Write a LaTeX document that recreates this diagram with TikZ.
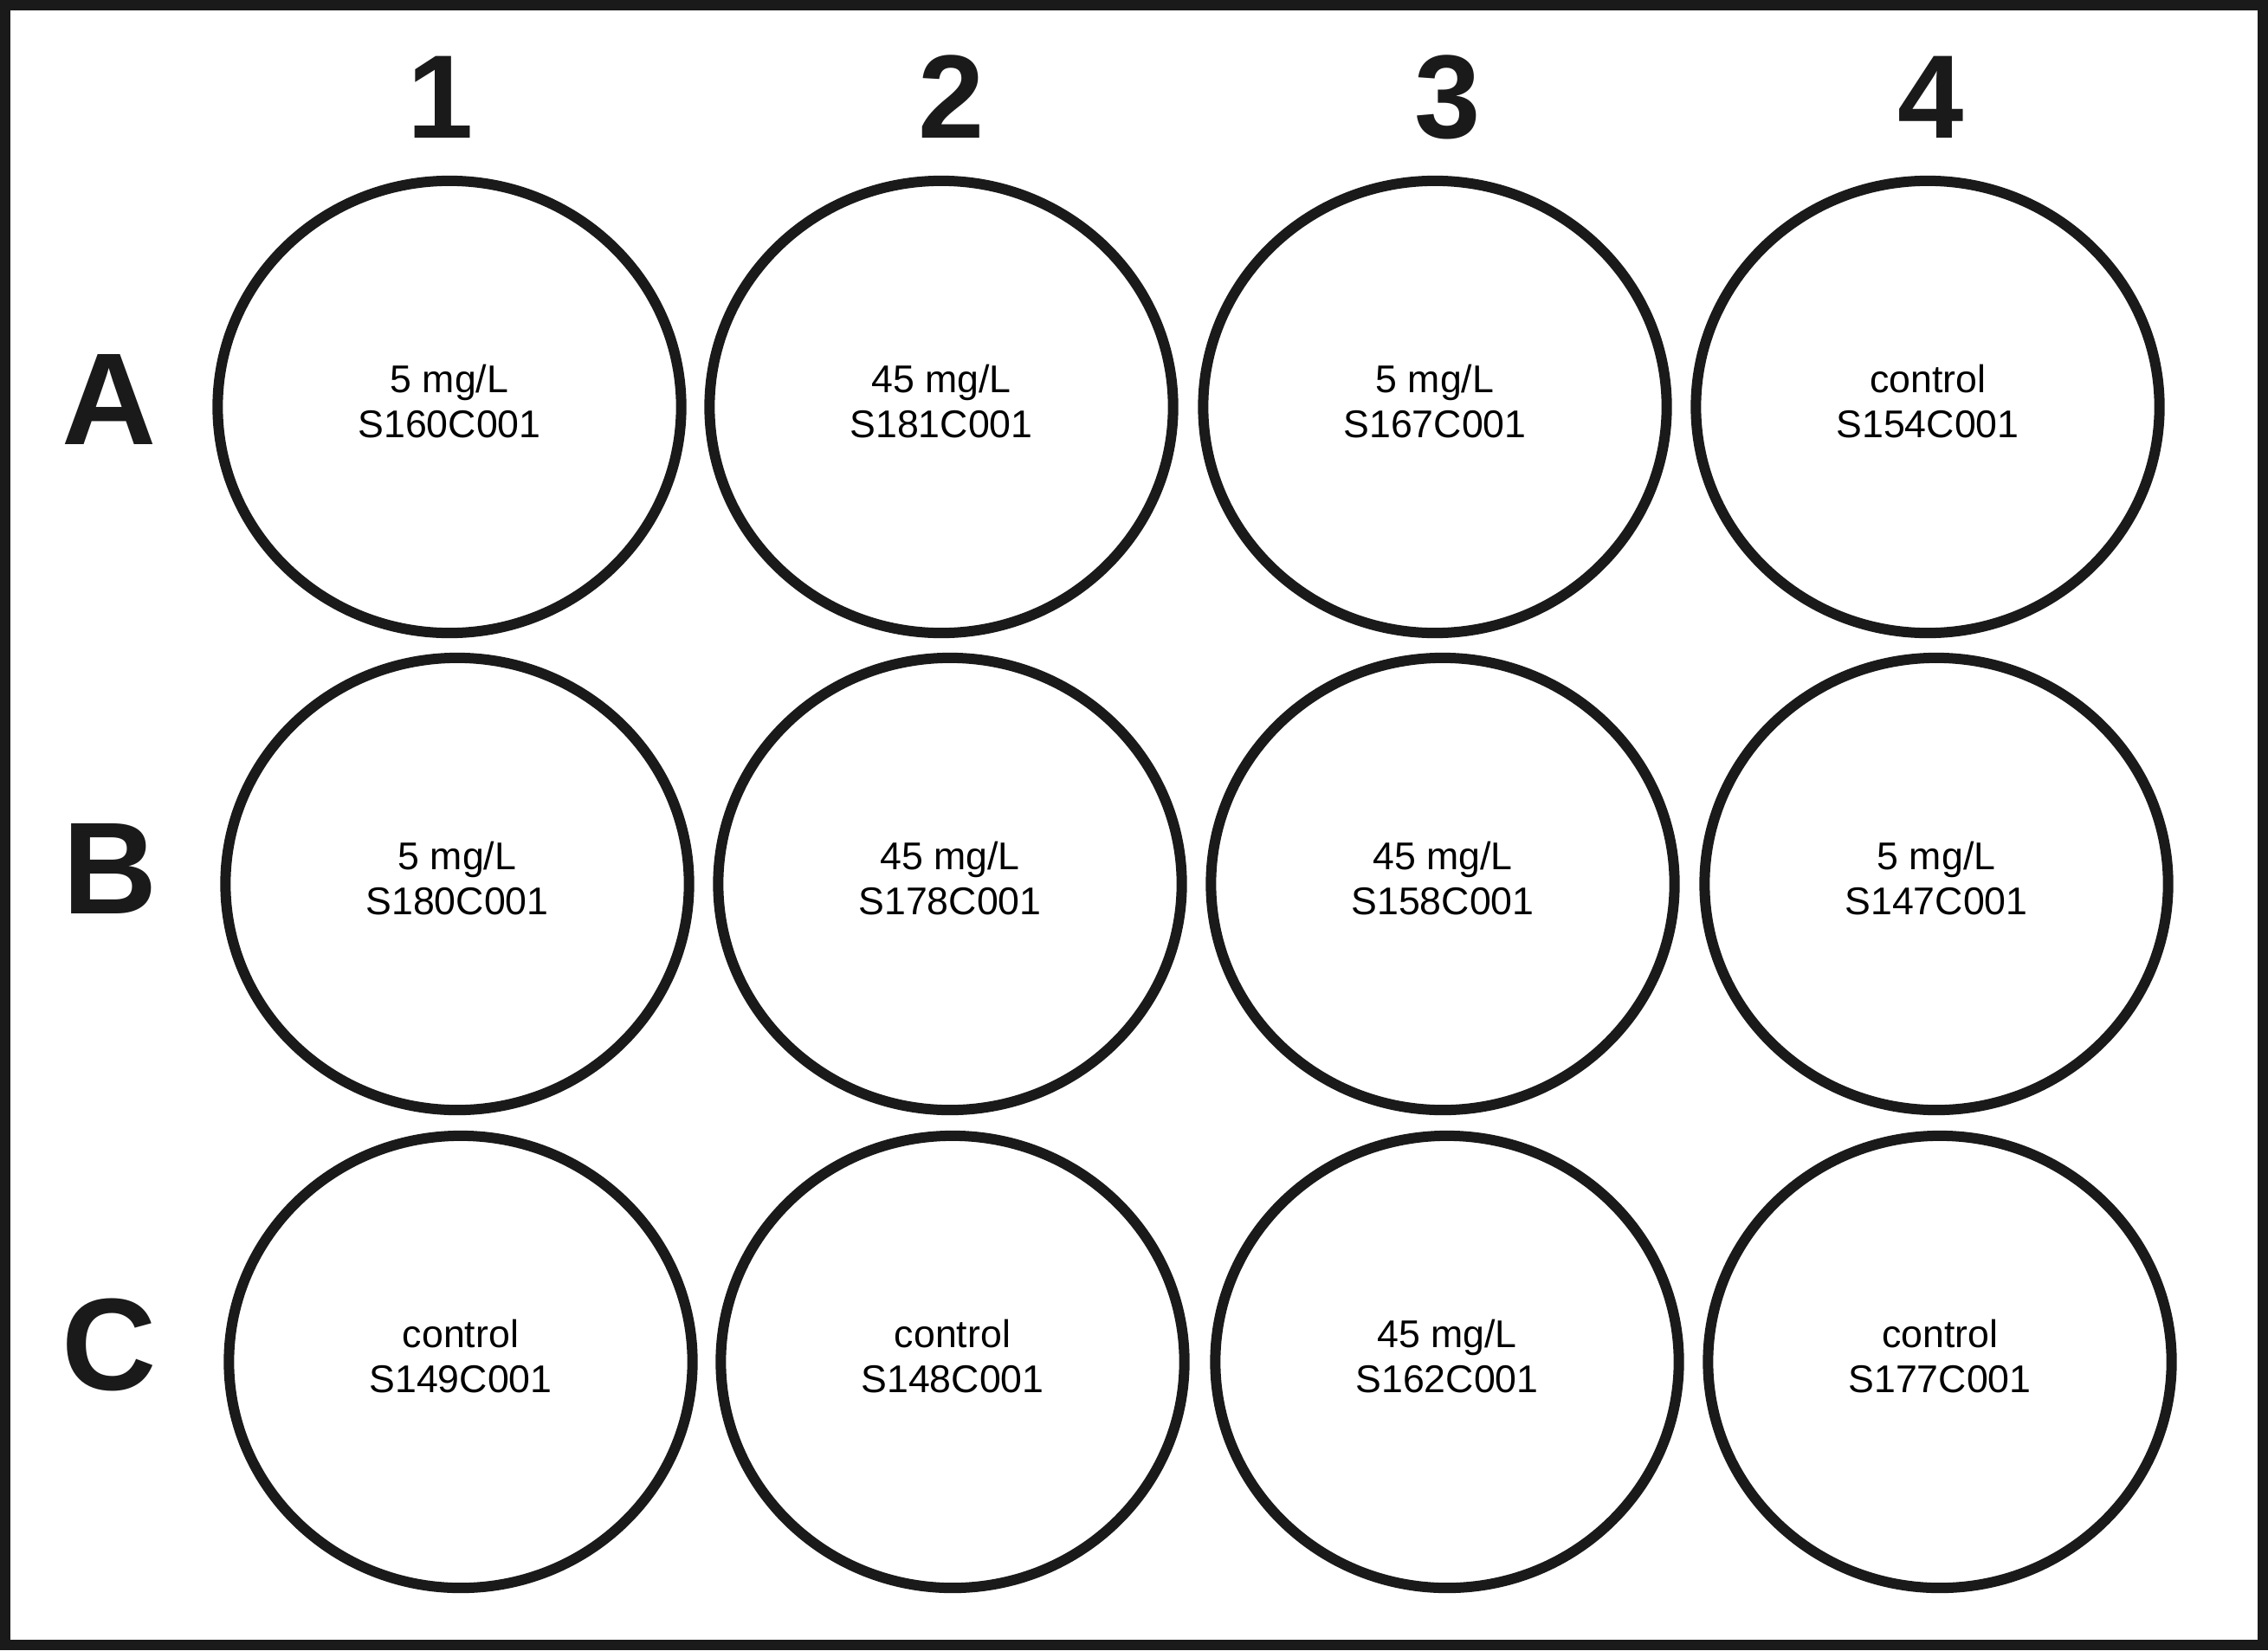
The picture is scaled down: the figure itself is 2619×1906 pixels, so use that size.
\documentclass[tikz,border=0pt]{standalone}
\usepackage{fontspec}
\setmainfont{Liberation Sans}
\usetikzlibrary{shapes.geometric}
\definecolor{plateline}{HTML}{1A1A1A}

\begin{document}
\begin{tikzpicture}[
  x=0.01cm, y=-0.01cm,
  every node/.style={inner sep=0pt},
  frame/.style={draw=plateline, line width=0.12cm},
  well/.style={ellipse, draw=plateline, line width=0.12cm, minimum width=5.35cm,
    minimum height=5.22cm, inner sep=0pt, align=center, text depth=4pt,
    font=\fontsize{12.7}{14.8}\selectfont},
  collabel/.style={text=plateline, font=\bfseries\fontsize{39}{39}\selectfont},
  rowlabel/.style={text=plateline, font=\bfseries\fontsize{43}{43}\selectfont}]

  \useasboundingbox (0,0) rectangle (2619,1906);

  % --- outer frame of the plate ---
  \draw[frame] (6,6) rectangle (2613,1900);

  % --- column numbers ---
  \node[collabel] (col1) at (509,112)  {1};
  \node[collabel] (col2) at (1099,112) {2};
  \node[collabel] (col3) at (1672,112) {3};
  \node[collabel] (col4) at (2230,112) {4};

  % --- row letters ---
  \node[rowlabel] (rowa) at (126,461)  {A};
  \node[rowlabel] (rowb) at (127,1003) {B};
  \node[rowlabel] (rowc) at (126,1553) {C};

  % --- row A wells ---
  \node[well] (a1) at (519,470)  {5 mg/L\\S160C001};
  \node[well] (a2) at (1087,470) {45 mg/L\\S181C001};
  \node[well] (a3) at (1657,470) {5 mg/L\\S167C001};
  \node[well] (a4) at (2226,470) {control\\S154C001};

  % --- row B wells ---
  \node[well] (b1) at (528,1021)  {5 mg/L\\S180C001};
  \node[well] (b2) at (1097,1021) {45 mg/L\\S178C001};
  \node[well] (b3) at (1666,1021) {45 mg/L\\S158C001};
  \node[well] (b4) at (2236,1021) {5 mg/L\\S147C001};

  % --- row C wells ---
  \node[well] (c1) at (532,1573)  {control\\S149C001};
  \node[well] (c2) at (1100,1573) {control\\S148C001};
  \node[well] (c3) at (1671,1573) {45 mg/L\\S162C001};
  \node[well] (c4) at (2240,1573) {control\\S177C001};

\end{tikzpicture}
\end{document}
